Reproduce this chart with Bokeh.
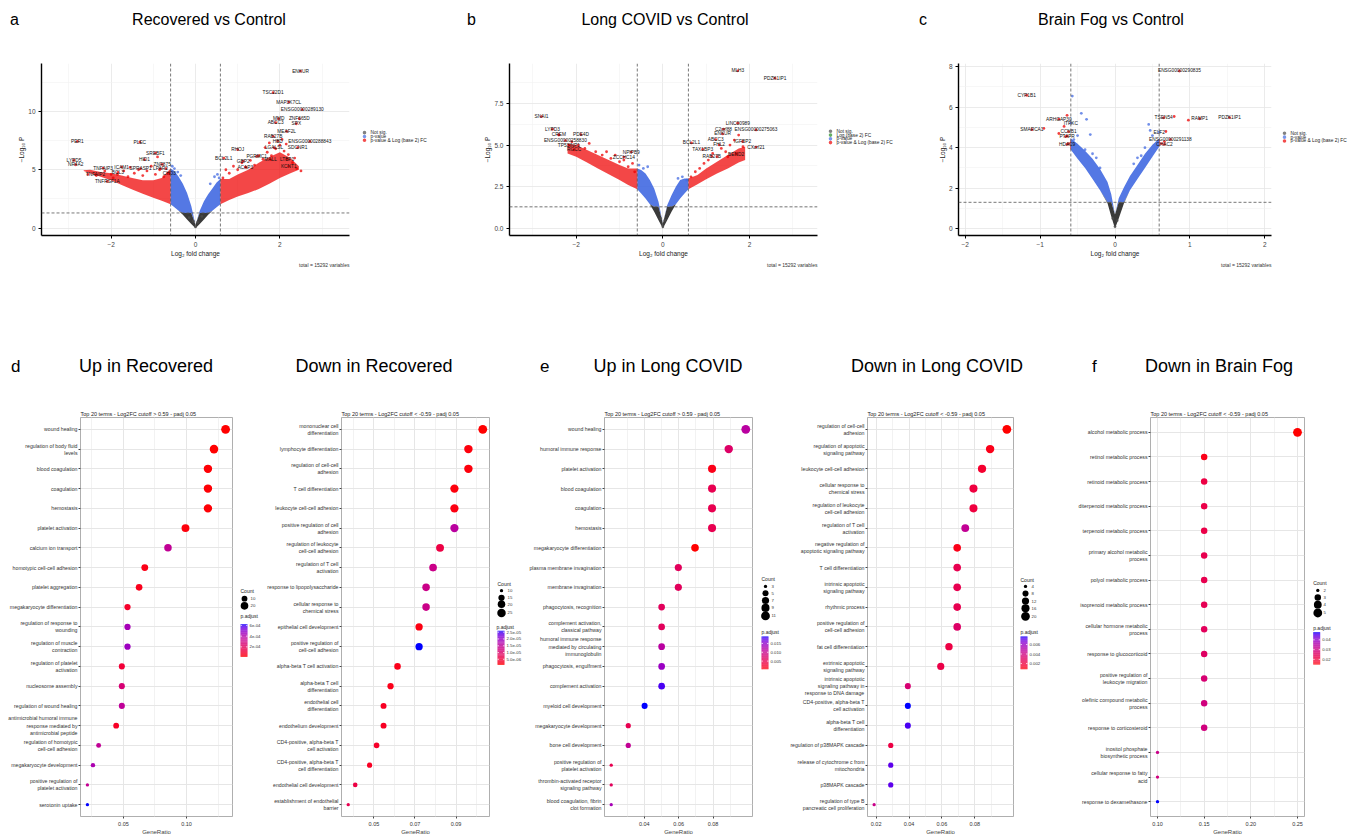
import numpy as np
from bokeh.plotting import figure
from bokeh.models import (Range1d, FactorRange, FixedTicker, Span, Title,
                          LinearColorMapper, ColumnDataSource, Div)
from bokeh.layouts import column, row
from bokeh.core.properties import value
from bokeh.embed import file_html
from bokeh.resources import INLINE

FONT = "Liberation Sans"

# ------------------------------------------------------------------ volcano data
# cloud envelopes (x, lower edge of -log10 P, upper edge of dense cloud)
a_left_x = [0, -0.1, -0.2, -0.3, -0.4, -0.5, -0.59, -0.8, -1.0, -1.25, -1.5, -1.75, -2.0, -2.25, -2.5, -2.65]
a_left_lo = [0, 0.35, 0.75, 1.15, 1.5, 1.8, 2.05, 2.35, 2.6, 2.95, 3.3, 3.7, 4.1, 4.4, 4.7, 4.9]
a_left_hi = [0.3, 1.9, 3.0, 3.8, 4.4, 4.9, 5.1, 4.3, 4.1, 4.1, 4.3, 4.5, 4.7, 4.8, 5.0, 4.95]
a_right_x = [0, 0.1, 0.2, 0.3, 0.4, 0.5, 0.59, 0.8, 1.0, 1.25, 1.5, 1.75, 2.0, 2.25, 2.45]
a_right_lo = [0, 0.35, 0.75, 1.15, 1.5, 1.8, 2.05, 2.4, 2.7, 3.0, 3.35, 3.8, 4.3, 4.7, 5.0]
a_right_hi = [0.3, 1.5, 2.3, 2.9, 3.4, 3.9, 4.2, 4.2, 4.6, 5.0, 5.6, 6.1, 6.5, 6.0, 5.3]
a_pts_x = [-2.55, -2.35, -2.15, -1.95, -1.85, -1.7, -1.6, -1.45, -1.35, -1.25, -1.15, -1.05, -0.95, -0.85, -0.75, -0.7, -0.65, -0.9, -1.55, -2.0,
           0.65, 0.72, 0.8, 0.9, 1.0, 1.1, 1.2, 1.3, 1.4, 1.5, 1.6, 1.7, 1.8, 1.9, 2.0, 2.1, 2.2, 2.3, 2.4, 2.5, 1.75, 2.05, 2.15, 1.65, 2.35,
           -0.55, -0.5, -0.42, -0.35, 0.35, 0.45, 0.52, 0.56, -0.05, 0.05, -0.15, 0.15, 0.0]
a_pts_y = [4.6, 4.5, 4.9, 4.3, 4.6, 4.9, 4.4, 4.7, 5.0, 4.5, 4.9, 5.3, 4.6, 5.0, 4.4, 5.1, 4.7, 6.1, 5.2, 4.6,
           4.3, 5.0, 4.7, 5.3, 5.0, 5.6, 5.2, 5.8, 5.4, 6.2, 5.9, 6.5, 6.2, 6.8, 7.1, 6.6, 6.3, 5.6, 5.1, 4.9, 7.3, 7.6, 7.2, 6.9, 6.0,
           5.3, 5.1, 4.8, 4.5, 3.8, 4.4, 4.6, 4.3, 0.6, 0.5, 0.9, 1.0, 0.1]
a_genes = ["ENKUR", "TSC22D1", "MAP3K7CL", "ENSG00000289130", "MMD", "ZNF665D", "ABCC3", "SPX", "MEAF2L", "RAB27B",
           "HBD", "ENSG00000288843", "SDCNR1", "LGALSL", "RHOJ", "BCL2L1", "GBP2", "PGRMC1", "MALL", "LTBP1", "ACAP3", "KCNT1",
           "PER1", "PLEC", "SREBF1", "HID1", "ZNF875", "LYPD5", "NR4A2", "TNFAIP3", "ICAM1", "BCL3", "TNFAIP2",
           "TNFRSF1A", "SPRASP1", "LPAR2", "CHD3"]
a_gx = [2.49, 1.84, 2.21, 2.53, 1.97, 2.46, 1.90, 2.39, 2.16, 1.84, 1.95, 2.71, 2.42, 1.86, 1.00, 0.67, 1.13, 1.45, 1.78, 2.17, 1.18, 2.21,
        -2.80, -1.32, -0.95, -1.21, -0.79, -2.88, -2.84, -2.19, -1.75, -1.84, -2.37, -2.09, -1.30, -0.83, -0.62]
a_gy = [13.45, 11.6, 10.8, 10.15, 9.37, 9.37, 9.03, 8.94, 8.28, 7.86, 7.46, 7.43, 6.89, 6.89, 6.72, 6.0, 5.74, 6.14, 5.86, 5.91, 5.23, 5.29,
        7.43, 7.37, 6.43, 5.86, 5.46, 5.8, 5.43, 5.14, 5.23, 4.77, 4.58, 4.0, 5.09, 5.09, 4.66]

b_left_x = [0, -0.1, -0.2, -0.3, -0.4, -0.5, -0.59, -0.8, -1.0, -1.25, -1.5, -1.75, -2.0, -2.2]
b_left_lo = [0, 0.5, 1.0, 1.45, 1.8, 2.1, 2.35, 2.6, 2.9, 3.25, 3.6, 3.95, 4.3, 4.5]
b_left_hi = [0.3, 1.6, 2.4, 2.9, 3.3, 3.5, 3.6, 3.6, 3.8, 4.1, 4.4, 4.7, 5.0, 5.1]
b_right_x = [0, 0.1, 0.2, 0.3, 0.4, 0.5, 0.59, 0.8, 1.0, 1.25, 1.5, 1.75, 1.9]
b_right_lo = [0, 0.5, 1.0, 1.45, 1.8, 2.1, 2.35, 2.65, 2.95, 3.3, 3.6, 3.95, 4.1]
b_right_hi = [0.3, 1.4, 2.0, 2.5, 2.9, 3.0, 3.0, 3.2, 3.6, 4.0, 4.4, 4.8, 4.9]
b_pts_x = [-2.1, -1.95, -1.8, -1.7, -1.55, -1.4, -1.3, -1.2, -1.1, -1.0, -0.9, -0.8, -0.7, -0.65, -2.4,
           0.65, 0.75, 0.85, 0.95, 1.05, 1.15, 1.25, 1.35, 1.45, 1.55, 1.65, 1.75, 1.85, 1.7, 1.5,
           -0.55, -0.45, -0.35, 0.35, 0.45, 0.55, -0.05, 0.05, 0.0]
b_pts_y = [5.2, 5.0, 4.8, 5.1, 4.6, 4.4, 4.6, 4.2, 4.4, 4.0, 4.1, 3.7, 3.9, 3.4, 5.6,
           3.1, 3.4, 3.6, 3.9, 4.1, 4.5, 4.3, 4.8, 4.6, 5.0, 5.3, 5.6, 4.9, 4.5, 4.3,
           3.8, 3.6, 3.7, 3.0, 3.1, 2.9, 0.6, 0.5, 0.1]
b_genes = ["MLH3", "PDZK1IP1", "SNAI1", "LYPD3", "CREM", "PDE4D", "ENSG00000258830", "TP53INP1", "RGCC",
           "NPIPB9", "ZCCHC14", "LINC00989", "C2orf88", "ENSG00000275063", "ENKUR", "ABCC3", "IGFBP2", "BCL2L1",
           "FHL2", "CXorf21", "TAX1BP3", "RAB27B", "BEND2"]
b_gx = [1.73, 2.59, -2.80, -2.55, -2.40, -1.89, -2.25, -2.17, -2.05, -0.73, -0.90, 1.73, 1.40, 2.15, 1.38, 1.22, 1.84, 0.66,
        1.30, 2.15, 0.92, 1.13, 1.69]
b_gy = [9.45, 9.01, 6.71, 5.95, 5.63, 5.63, 5.27, 5.0, 4.72, 4.58, 4.28, 6.31, 5.95, 5.91, 5.67, 5.33, 5.21, 5.13,
        5.01, 4.88, 4.74, 4.32, 4.44]

c_left_x = [0, -0.05, -0.1, -0.2, -0.3, -0.4, -0.5, -0.59, -0.6]
c_left_lo = [0, 0.6, 1.25, 1.9, 2.45, 3.0, 3.45, 3.9, 3.95]
c_left_hi = [0.7, 1.7, 2.3, 2.95, 3.45, 3.85, 4.2, 4.45, 4.3]
c_right_x = [0, 0.05, 0.12, 0.2, 0.3, 0.4, 0.5, 0.59, 0.6]
c_right_lo = [0, 0.5, 1.25, 1.9, 2.45, 3.0, 3.55, 4.05, 4.1]
c_right_hi = [0.7, 1.5, 2.05, 2.6, 3.15, 3.7, 4.15, 4.45, 4.35]
c_pts_x = [-0.45, -0.38, -0.33, -0.5, -0.55, -0.57, 0.45, 0.5, 0.47, -0.3, -0.25, -0.2, 0.25, 0.3, 0.35, -0.4, 0.4,
           -0.64, -0.68, -0.95, -0.75, -0.66, -0.62, 0.79, 0.98, 0.68, 0.62, 0.66, -0.03, 0.03, 0.0]
c_pts_y = [5.7, 5.4, 4.65, 4.6, 4.4, 6.55, 5.15, 4.6, 4.85, 3.7, 3.5, 3.0, 3.2, 3.5, 3.6, 3.9, 4.0,
           5.6, 5.05, 4.95, 4.7, 4.55, 4.2, 5.54, 5.36, 4.8, 4.2, 4.3, 0.5, 0.4, 0.1]
c_genes = ["ENSG00000290835", "CYP1B1", "ARHGAP30", "ITPKC", "SMARCA1", "CCNB1", "PTAFR", "HDAC9",
           "TSEN54", "RAMP1", "PDZK1IP1", "ELF2", "ENSG00000291138", "CHAC2"]
c_gx = [0.86, -1.18, -0.75, -0.59, -1.11, -0.62, -0.64, -0.64, 0.65, 1.13, 1.53, 0.59, 0.74, 0.66]
c_gy = [7.79, 6.59, 5.41, 5.21, 4.89, 4.79, 4.57, 4.16, 5.48, 5.43, 5.49, 4.77, 4.41, 4.16]

legend3 = ["Not sig.", "p-value", "p-value & Log (base 2) FC"]
legend4 = ["Not sig.", "Log (base 2) FC", "p-value", "p-value & Log (base 2) FC"]

# ------------------------------------------------------------------ enrichment data
d1_terms = ["wound healing", "regulation of body fluid\nlevels", "blood coagulation", "coagulation", "hemostasis",
            "platelet activation", "calcium ion transport", "homotypic cell-cell adhesion", "platelet aggregation",
            "megakaryocyte differentiation", "regulation of response to\nwounding", "regulation of muscle\ncontraction",
            "regulation of platelet\nactivation", "nucleosome assembly", "regulation of wound healing",
            "antimicrobial humoral immune\nresponse mediated by\nantimicrobial peptide",
            "regulation of homotypic\ncell-cell adhesion", "megakaryocyte development",
            "positive regulation of\nplatelet activation", "serotonin uptake"]
d1_ratio = [0.131, 0.1218, 0.117, 0.117, 0.117, 0.0992, 0.0853, 0.0669, 0.0624, 0.0532, 0.0532, 0.0532,
            0.0487, 0.0487, 0.0487, 0.0442, 0.0303, 0.0258, 0.0214, 0.0214]
d1_count = [29, 27, 26, 26, 26, 22, 19, 15, 14, 12, 12, 12, 11, 11, 11, 10, 7, 6, 5, 5]
d1_padj = [1.7e-05, 1.9e-05, 2.2e-05, 2.2e-05, 2.2e-05, 3.0e-05, 3.5e-04, 4.5e-05, 5.0e-05, 8.0e-05, 4.4e-04, 4.6e-04,
           1.1e-04, 2.6e-04, 3.6e-04, 7.0e-05, 3.5e-04, 4.2e-04, 3.4e-04, 6.2e-04]
d1_count_breaks = [10, 20]
d1_padj_ticks = [2e-04, 4e-04, 6e-04]
d1_padj_labels = ["2e-04", "4e-04", "6e-04"]
d1_xticks = [0.05, 0.10]

d2_terms = ["mononuclear cell\ndifferentiation", "lymphocyte differentiation", "regulation of cell-cell\nadhesion",
            "T cell differentiation", "leukocyte cell-cell adhesion", "positive regulation of cell\nadhesion",
            "regulation of leukocyte\ncell-cell adhesion", "regulation of T cell\nactivation",
            "response to lipopolysaccharide", "cellular response to\nchemical stress", "epithelial cell development",
            "positive regulation of\ncell-cell adhesion", "alpha-beta T cell activation",
            "alpha-beta T cell\ndifferentiation", "endothelial cell\ndifferentiation", "endothelium development",
            "CD4-positive, alpha-beta T\ncell activation", "CD4-positive, alpha-beta T\ncell differentiation",
            "endothelial cell development", "establishment of endothelial\nbarrier"]
d2_ratio = [0.103, 0.096, 0.096, 0.0892, 0.0892, 0.0892, 0.0822, 0.0788, 0.0754, 0.0754, 0.0720, 0.0720,
            0.0615, 0.0581, 0.0547, 0.0547, 0.0513, 0.0479, 0.0409, 0.0375]
d2_count = [27, 25, 25, 24, 24, 24, 22, 21, 20, 20, 19, 19, 16, 15, 14, 14, 13, 12, 11, 10]
d2_padj = [1.0e-06, 1.5e-06, 1.5e-06, 1.5e-06, 1.8e-06, 1.6e-05, 6.0e-06, 1.35e-05, 1.35e-05, 1.35e-05, 1.8e-06,
           2.6e-05, 2.3e-06, 2.3e-06, 3.0e-06, 3.0e-06, 3.5e-06, 3.0e-06, 6.0e-06, 7.3e-06]
d2_count_breaks = [10, 15, 20, 25]
d2_padj_ticks = [5e-06, 1e-05, 1.5e-05, 2e-05, 2.5e-05]
d2_padj_labels = ["5.0e-06", "1.0e-05", "1.5e-05", "2.0e-05", "2.5e-05"]
d2_xticks = [0.05, 0.07, 0.09, 0.11]

e1_terms = ["wound healing", "humoral immune response", "platelet activation", "blood coagulation", "coagulation",
            "hemostasis", "megakaryocyte differentiation", "plasma membrane invagination", "membrane invagination",
            "phagocytosis, recognition", "complement activation,\nclassical pathway",
            "humoral immune response\nmediated by circulating\nimmunoglobulin", "phagocytosis, engulfment",
            "complement activation", "myeloid cell development", "megakaryocyte development",
            "bone cell development", "positive regulation of\nplatelet activation",
            "thrombin-activated receptor\nsignaling pathway", "blood coagulation, fibrin\nclot formation"]
e1_ratio = [0.099, 0.0891, 0.0794, 0.0794, 0.0794, 0.0794, 0.0695, 0.0598, 0.0598, 0.0501, 0.0501, 0.0501, 0.0501,
            0.0501, 0.0402, 0.0307, 0.0307, 0.0208, 0.0208, 0.0208]
e1_count = [11, 10, 9, 9, 9, 9, 8, 7, 7, 6, 6, 6, 6, 6, 5, 4, 4, 3, 3, 3]
e1_padj = [0.0116, 0.0069, 0.0013, 0.0051, 0.0051, 0.0051, 0.0004, 0.0060, 0.0060, 0.0060, 0.0060, 0.0116, 0.0144,
           0.0181, 0.0190, 0.0051, 0.0106, 0.0051, 0.0060, 0.0134]
e1_count_breaks = [3, 5, 7, 9, 11]
e1_padj_ticks = [0.005, 0.010, 0.015]
e1_padj_labels = ["0.005", "0.010", "0.015"]
e1_xticks = [0.04, 0.06, 0.08]

e2_terms = ["regulation of cell-cell\nadhesion", "regulation of apoptotic\nsignaling pathway",
            "leukocyte cell-cell adhesion", "cellular response to\nchemical stress",
            "regulation of leukocyte\ncell-cell adhesion", "regulation of T cell\nactivation",
            "negative regulation of\napoptotic signaling pathway", "T cell differentiation",
            "intrinsic apoptotic\nsignaling pathway", "rhythmic process", "positive regulation of\ncell-cell adhesion",
            "fat cell differentiation", "extrinsic apoptotic\nsignaling pathway",
            "intrinsic apoptotic\nsignaling pathway in\nresponse to DNA damage",
            "CD4-positive, alpha-beta T\ncell activation", "alpha-beta T cell\ndifferentiation",
            "regulation of p38MAPK cascade", "release of cytochrome c from\nmitochondria", "p38MAPK cascade",
            "regulation of type B\npancreatic cell proliferation"]
e2_ratio = [0.0995, 0.0893, 0.0844, 0.0792, 0.0792, 0.0742, 0.0693, 0.0693, 0.0693, 0.0693, 0.0693, 0.0643, 0.0593,
            0.0393, 0.0393, 0.0393, 0.0289, 0.0289, 0.0289, 0.0188]
e2_count = [20, 18, 17, 16, 16, 15, 14, 14, 14, 14, 14, 13, 12, 8, 8, 8, 6, 6, 6, 4]
e2_padj = [0.0008, 0.00115, 0.00163, 0.00204, 0.00204, 0.0046, 0.00115, 0.00253, 0.00253, 0.00253, 0.00322, 0.00218,
           0.00232, 0.00356, 0.0077, 0.00736, 0.00218, 0.00715, 0.00715, 0.00425]
e2_count_breaks = [4, 8, 12, 16, 20]
e2_padj_ticks = [0.002, 0.004, 0.006]
e2_padj_labels = ["0.002", "0.004", "0.006"]
e2_xticks = [0.02, 0.04, 0.06, 0.08]

f_terms = ["alcohol metabolic process", "retinol metabolic process", "retinoid metabolic process",
           "diterpenoid metabolic process", "terpenoid metabolic process", "primary alcohol metabolic\nprocess",
           "polyol metabolic process", "isoprenoid metabolic process", "cellular hormone metabolic\nprocess",
           "response to glucocorticoid", "positive regulation of\nleukocyte migration",
           "olefinic compound metabolic\nprocess", "response to corticosteroid", "inositol phosphate\nbiosynthetic process",
           "cellular response to fatty\nacid", "response to dexamethasone"]
f_ratio = [0.25, 0.15, 0.15, 0.15, 0.15, 0.15, 0.15, 0.15, 0.15, 0.15, 0.15, 0.15, 0.15, 0.10, 0.10, 0.10]
f_count = [5, 3, 3, 3, 3, 3, 3, 3, 3, 3, 3, 3, 3, 2, 2, 2]
f_padj = [0.0148, 0.0164, 0.0214, 0.0220, 0.0220, 0.0230, 0.0230, 0.0237, 0.0246, 0.0256, 0.0279, 0.0296, 0.0296,
          0.0312, 0.0296, 0.0476]
f_count_breaks = [2, 3, 4, 5]
f_padj_ticks = [0.02, 0.03, 0.04]
f_padj_labels = ["0.02", "0.03", "0.04"]
f_xticks = [0.10, 0.15, 0.20, 0.25]

# ------------------------------------------------------------------ helpers
FC, PC = 0.59, 1.3
GREY, GREEN, BLUE, RED = "#4D4D4D", "#228B22", "#4169E1", "#EE0000"
CLASS_COLOR = {"Not sig.": GREY, "Log (base 2) FC": GREEN, "p-value": BLUE, "p-value & Log (base 2) FC": RED}
GRID, GRID_MINOR = "#E6E6E6", "#F2F2F2"


def _to_lab(rgb):
    def lin(c):
        c = c / 255.0
        return c / 12.92 if c <= 0.04045 else ((c + 0.055) / 1.055) ** 2.4
    r, g, b = [lin(v) for v in rgb]
    X = 0.4124 * r + 0.3576 * g + 0.1805 * b
    Y = 0.2126 * r + 0.7152 * g + 0.0722 * b
    Z = 0.0193 * r + 0.1192 * g + 0.9505 * b

    def f(t):
        return t ** (1 / 3) if t > 0.008856 else 7.787 * t + 16 / 116
    fx, fy, fz = f(X / 0.95047), f(Y), f(Z / 1.08883)
    return (116 * fy - 16, 500 * (fx - fy), 200 * (fy - fz))


def _to_hex(lab):
    L, a, b = lab
    fy = (L + 16) / 116
    fx = fy + a / 500
    fz = fy - b / 200

    def finv(t):
        return t ** 3 if t ** 3 > 0.008856 else (t - 16 / 116) / 7.787
    X, Y, Z = 0.95047 * finv(fx), finv(fy), 1.08883 * finv(fz)
    r = 3.2406 * X - 1.5372 * Y - 0.4986 * Z
    g = -0.9689 * X + 1.8758 * Y + 0.0415 * Z
    bb = 0.0557 * X - 0.2040 * Y + 1.0570 * Z

    def gam(c):
        c = max(0.0, min(1.0, c))
        return 12.92 * c if c <= 0.0031308 else 1.055 * c ** (1 / 2.4) - 0.055
    return "#%02x%02x%02x" % tuple(int(round(gam(c) * 255)) for c in (r, g, bb))


_lr, _lb = _to_lab((255, 0, 0)), _to_lab((0, 0, 255))
PALETTE = [_to_hex(tuple(_lr[k] + (_lb[k] - _lr[k]) * i / 255 for k in range(3))) for i in range(256)]


def classify(x, y):
    if abs(x) > FC and y > PC:
        return RED
    if y > PC:
        return BLUE
    if abs(x) > FC:
        return GREEN
    return GREY


def bare_fig(width, height):
    p = figure(width=width, height=height, x_range=Range1d(0, width), y_range=Range1d(height, 0),
               output_backend="svg", toolbar_location=None, min_border=0,
               x_axis_location=None, y_axis_location=None)
    p.grid.visible = False
    p.outline_line_color = None
    return p


ROW1_TOP = 40
ROW1_H = 260


def volcano(width, ml, xr, yr, xt, xm, yt, ym, ylab_over, envs, px, py, gname, gx, gy):
    p = figure(width=width, height=ROW1_H, x_range=Range1d(*xr), y_range=Range1d(*yr),
               output_backend="svg", toolbar_location=None,
               min_border_left=ml, min_border_right=3, min_border_top=23, min_border_bottom=65)
    p.outline_line_color = None
    p.xaxis.ticker = FixedTicker(ticks=xt, minor_ticks=xm)
    p.yaxis.ticker = FixedTicker(ticks=yt, minor_ticks=ym)
    if ylab_over:
        p.yaxis.major_label_overrides = ylab_over
    for g in (p.xgrid, p.ygrid):
        g.grid_line_color = GRID
        g.grid_line_width = 0.8
        g.minor_grid_line_color = GRID_MINOR
        g.minor_grid_line_width = 0.6
    for ax in (p.xaxis[0], p.yaxis[0]):
        ax.axis_line_color = "black"
        ax.axis_line_width = 1.4
        ax.major_tick_line_color = "black"
        ax.major_tick_out = 3
        ax.major_tick_in = 0
        ax.minor_tick_line_color = None
        ax.major_label_text_font = FONT
        ax.major_label_text_font_size = "6.5px"
        ax.major_label_text_color = "#444444"
        ax.major_label_standoff = 2
        ax.axis_label_text_font = FONT
        ax.axis_label_text_font_size = "6.5px"
        ax.axis_label_text_font_style = "normal"
        ax.axis_label_text_color = "#222222"
        ax.axis_label_standoff = 0
    p.xaxis.axis_label = "Log\u2082 fold change"
    p.yaxis.axis_label = "\u2212Log\u2081\u2080 P"

    for ex, lo, hi in envs:
        ex = np.asarray(ex, float)
        lo = np.asarray(lo, float)
        hi = np.asarray(hi, float)
        inner = np.abs(ex) <= FC + 1e-9
        outer = np.abs(ex) >= FC - 1e-9
        y1 = np.minimum(np.maximum(lo, PC), hi)
        p.varea(x=ex[inner].tolist(), y1=y1[inner].tolist(), y2=hi[inner].tolist(),
                fill_color=BLUE, fill_alpha=0.9)
        if outer.sum() >= 2:
            p.varea(x=ex[outer].tolist(), y1=y1[outer].tolist(), y2=hi[outer].tolist(),
                    fill_color=RED, fill_alpha=0.72)
        p.varea(x=ex.tolist(), y1=lo.tolist(), y2=np.maximum(lo, np.minimum(hi, PC)).tolist(),
                fill_color="#3A3A3A", fill_alpha=1.0)

    allx = list(px) + list(gx)
    ally = list(py) + list(gy)
    cols = [classify(x, y) for x, y in zip(allx, ally)]
    p.scatter(x=allx, y=ally, size=2.8, fill_color=cols, line_color=None, fill_alpha=0.75)

    for loc in (-FC, FC):
        p.add_layout(Span(location=loc, dimension="height", line_color="#555555", line_dash="3 2", line_width=0.8))
    p.add_layout(Span(location=PC, dimension="width", line_color="#555555", line_dash="3 2", line_width=0.8))

    p.text(x=gx, y=gy, text=gname, text_font=value(FONT), text_font_size="4.8px", text_align="center",
           text_baseline="middle", text_color="#111111")
    p.add_layout(Title(text="total = 15292 variables", align="right", text_font=FONT, text_font_size="5px",
                       text_font_style="normal", text_color="#333333", standoff=0), "below")
    return p


def volcano_legend(width, x0, labels, glyph_x, text_x, ys):
    p = bare_fig(width, ROW1_H)
    yy = [y - ROW1_TOP for y in ys]
    p.scatter(x=[glyph_x - x0] * len(labels), y=yy, size=3.6,
              fill_color=[CLASS_COLOR[l] for l in labels], line_color=None, fill_alpha=0.7)
    p.text(x=[text_x - x0] * len(labels), y=yy, text=labels, text_font=value(FONT), text_font_size="4.8px",
           text_align="left", text_baseline="middle", text_color="#222222")
    return p


ROW2_TOP = 390
ROW2_H = 447


def size_of(c, cmin, cmax):
    c = np.asarray(c, float)
    return 1.1 * (3 + 5 * np.sqrt((c - cmin) / (cmax - cmin)))


def dotplot(terms, ratio, count, padj, subtitle, xticks, width, ml, mr):
    ratio = np.asarray(ratio, float)
    lo, hi = ratio.min(), ratio.max()
    pad = 0.05 * (hi - lo)
    cmin, cmax = min(count), max(count)
    mapper = LinearColorMapper(palette=PALETTE, low=min(padj), high=max(padj))
    p = figure(width=width, height=ROW2_H, x_range=Range1d(lo - pad, hi + pad),
               y_range=FactorRange(*terms[::-1], range_padding=0.1, range_padding_units="absolute"),
               output_backend="svg", toolbar_location=None,
               min_border_left=ml, min_border_right=mr, min_border_top=27, min_border_bottom=17)
    p.title.text = subtitle
    p.title.text_font = FONT
    p.title.text_font_size = "5.5px"
    p.title.text_font_style = "normal"
    p.title.text_color = "#222222"
    p.title.standoff = 2
    p.outline_line_color = "#9A9A9A"
    p.outline_line_width = 0.8
    step = xticks[1] - xticks[0]
    minors = [xticks[0] - step / 2] + [t + step / 2 for t in xticks]
    p.xaxis.ticker = FixedTicker(ticks=xticks, minor_ticks=minors)
    p.xaxis.major_label_overrides = {t: "%.2f" % t for t in xticks}
    p.xgrid.grid_line_color = GRID
    p.xgrid.minor_grid_line_color = GRID_MINOR
    p.ygrid.grid_line_color = GRID
    for ax in (p.xaxis[0], p.yaxis[0]):
        ax.axis_line_color = None
        ax.major_tick_line_color = "#444444"
        ax.major_tick_out = 2
        ax.major_tick_in = 0
        ax.minor_tick_line_color = None
        ax.major_label_text_font = FONT
        ax.major_label_text_color = "#333333"
        ax.major_label_standoff = 1
    p.yaxis.major_label_text_font_size = "5.2px"
    p.xaxis.major_label_text_font_size = "5.5px"
    p.xaxis.axis_label = "GeneRatio"
    p.xaxis.axis_label_text_font = FONT
    p.xaxis.axis_label_text_font_size = "6px"
    p.xaxis.axis_label_text_font_style = "normal"
    p.xaxis.axis_label_standoff = 0
    src = ColumnDataSource(dict(term=terms, ratio=ratio, size=size_of(count, cmin, cmax), padj=padj))
    p.scatter("ratio", "term", size="size", source=src,
              fill_color={"field": "padj", "transform": mapper}, line_color=None)
    return p, mapper, cmin, cmax, min(padj), max(padj)


def legend_fig(width, x0, mapper, cmin, cmax, pmin, pmax, breaks, ticks, tick_labels, spec):
    H = ROW2_H
    p = bare_fig(width, H)
    tx, ty = spec["count_title"]
    p.text(x=[tx - x0], y=[ty - ROW2_TOP], text=["Count"], text_font=value(FONT), text_font_size="5px",
           text_align="left", text_baseline="middle", text_color="#222222")
    dys = [y - ROW2_TOP for y in spec["dots_y"]]
    p.scatter(x=[spec["dots_x"] - x0] * len(breaks), y=dys, size=size_of(breaks, cmin, cmax).tolist(),
              fill_color="black", line_color=None)
    p.text(x=[spec["lab_x"] - x0] * len(breaks), y=dys, text=[str(b) for b in breaks], text_font=value(FONT),
           text_font_size="4.3px", text_align="left", text_baseline="middle", text_color="#333333")
    px_, py_ = spec["padj_title"]
    p.text(x=[px_ - x0], y=[py_ - ROW2_TOP], text=["p.adjust"], text_font=value(FONT), text_font_size="5px",
           text_align="left", text_baseline="middle", text_color="#222222")
    # colour bar drawn from the p.adjust scale through the same mapper
    cbx, cbt, cbb = spec["cbar"]
    cbx -= x0
    cbt -= ROW2_TOP
    cbb -= ROW2_TOP
    n = 48
    edges = np.linspace(pmin, pmax, n + 1)
    mids = 0.5 * (edges[:-1] + edges[1:])

    def ypos(v):
        return cbb - (np.asarray(v) - pmin) / (pmax - pmin) * (cbb - cbt)
    cb_src = ColumnDataSource(dict(mid=mids.tolist(), left=[cbx] * n, right=[cbx + 7] * n,
                                   bottom=ypos(edges[:-1]).tolist(), top=ypos(edges[1:]).tolist()))
    p.quad(left="left", right="right", bottom="bottom", top="top",
           fill_color={"field": "mid", "transform": mapper}, line_color=None, source=cb_src)
    ty_ = ypos(ticks).tolist()
    p.segment(x0=[cbx] * len(ticks), x1=[cbx + 1.5] * len(ticks), y0=ty_, y1=ty_, line_color="white", line_width=0.7)
    p.segment(x0=[cbx + 5.5] * len(ticks), x1=[cbx + 7] * len(ticks), y0=ty_, y1=ty_, line_color="white",
              line_width=0.7)
    p.text(x=[cbx + 9] * len(ticks), y=ty_, text=tick_labels, text_font=value(FONT), text_font_size="4.3px",
           text_align="left", text_baseline="middle", text_color="#333333")
    return p


def header(h, items):
    spans = []
    for text, x, yc, fs, anchor in items:
        tr = "transform:translateX(-50%);" if anchor == "center" else ""
        spans.append(
            f'<span style="position:absolute;left:{x}px;top:{yc - 0.6 * fs:.1f}px;font-size:{fs}px;'
            f'line-height:1.2;white-space:nowrap;font-family:\'{FONT}\',Arial,sans-serif;color:#000;{tr}">{text}</span>')
    html = f'<div style="position:relative;width:1352px;height:{h}px;">{"".join(spans)}</div>'
    return Div(text=html, width=1352, height=h, margin=0)


# ------------------------------------------------------------------ build
head1 = header(40, [("a", 10, 20, 16, "left"), ("Recovered vs Control", 209, 20, 16, "center"),
                    ("b", 467, 20, 16, "left"), ("Long COVID vs Control", 665, 20, 16, "center"),
                    ("c", 919, 20, 16, "left"), ("Brain Fog vs Control", 1111, 20, 16, "center")])

va = volcano(352, 41, (-3.65, 3.65), (-0.63, 14.1), [-2, 0, 2], [-3, -1, 1, 3], [0, 5, 10], [2.5, 7.5, 12.5], None,
             [(a_left_x, a_left_lo, a_left_hi), (a_right_x, a_right_lo, a_right_hi)],
             a_pts_x, a_pts_y, a_genes, a_gx, a_gy)
val = volcano_legend(108, 352, legend3, 364, 370, [144.5, 150.3, 156.1])
vb = volcano(360, 49, (-3.54, 3.57), (-0.42, 9.89), [-2, 0, 2], [-3, -1, 1, 3], [0, 2.5, 5, 7.5],
             [1.25, 3.75, 6.25, 8.75], {0: "0.0", 2.5: "2.5", 5: "5.0", 7.5: "7.5"},
             [(b_left_x, b_left_lo, b_left_hi), (b_right_x, b_right_lo, b_right_hi)],
             b_pts_x, b_pts_y, b_genes, b_gx, b_gy)
vbl = volcano_legend(90, 820, legend4, 830, 836, [142.5, 148.2, 153.9, 159.6])
vc = volcano(364, 48, (-2.09, 2.09), (-0.34, 8.16), [-2, -1, 0, 1, 2], [-1.5, -0.5, 0.5, 1.5], [0, 2, 4, 6, 8],
             [1, 3, 5, 7], None,
             [(c_left_x, c_left_lo, c_left_hi), (c_right_x, c_right_lo, c_right_hi)],
             c_pts_x, c_pts_y, c_genes, c_gx, c_gy)
vcl = volcano_legend(78, 1274, legend3, 1284, 1290, [145.5, 151.3, 157.1])

head2 = header(90, [("d", 11, 67, 17, "left"), ("Up in Recovered", 146, 67, 18, "center"),
                    ("Down in Recovered", 374, 67, 18, "center"), ("e", 540, 67, 17, "left"),
                    ("Up in Long COVID", 668, 67, 18, "center"), ("Down in Long COVID", 937, 67, 18, "center"),
                    ("f", 1092, 67, 17, "left"), ("Down in Brain Fog", 1219, 67, 18, "center")])

UP = "Top 20 terms - Log2FC cutoff > 0.59 - padj 0.05"
DOWN = "Top 20 terms - Log2FC cutoff < -0.59 - padj 0.05"

pd1, m1, c1a, c1b, p1a, p1b = dotplot(d1_terms, d1_ratio, d1_count, d1_padj, UP, d1_xticks, 236, 80, 4)
pl1 = legend_fig(26, 236, m1, c1a, c1b, p1a, p1b, d1_count_breaks, d1_padj_ticks, d1_padj_labels,
                 dict(count_title=(240, 584), dots_x=244, dots_y=[593, 601], lab_x=250,
                      padj_title=(240, 612), cbar=(240, 621.7, 658)))
pd2, m2, c2a, c2b, p2a, p2b = dotplot(d2_terms, d2_ratio, d2_count, d2_padj, DOWN, d2_xticks, 230, 79, 3)
pl2 = legend_fig(34, 492, m2, c2a, c2b, p2a, p2b, d2_count_breaks, d2_padj_ticks, d2_padj_labels,
                 dict(count_title=(497, 577), dots_x=501, dots_y=[584, 592, 599.3, 609], lab_x=507,
                      padj_title=(496, 625), cbar=(497, 629, 667)))
pe1, m3, c3a, c3b, p3a, p3b = dotplot(e1_terms, e1_ratio, e1_count, e1_padj, UP, e1_xticks, 229, 75, 3)
pl3 = legend_fig(31, 755, m3, c3a, c3b, p3a, p3b, e1_count_breaks, e1_padj_ticks, e1_padj_labels,
                 dict(count_title=(761, 571), dots_x=765, dots_y=[579.3, 587, 595, 603.3, 612.3], lab_x=771,
                      padj_title=(761, 630), cbar=(761, 635.3, 672)))
pe2, m4, c4a, c4b, p4a, p4b = dotplot(e2_terms, e2_ratio, e2_count, e2_padj, DOWN, e2_xticks, 229, 81, 2)
pl4 = legend_fig(30, 1015, m4, c4a, c4b, p4a, p4b, e2_count_breaks, e2_padj_ticks, e2_padj_labels,
                 dict(count_title=(1020, 571.7), dots_x=1025, dots_y=[579.3, 587.3, 595.7, 603.7, 612.7], lab_x=1031,
                      padj_title=(1020, 630), cbar=(1020, 635.3, 672)))
pf, m5, c5a, c5b, p5a, p5b = dotplot(f_terms, f_ratio, f_count, f_padj, DOWN, f_xticks, 263, 105, 4)
pl5 = legend_fig(44, 1308, m5, c5a, c5b, p5a, p5b, f_count_breaks, f_padj_ticks, f_padj_labels,
                 dict(count_title=(1312.7, 575.7), dots_x=1317.3, dots_y=[583.7, 591.7, 599.7, 609], lab_x=1323,
                      padj_title=(1312.7, 625.7), cbar=(1312.7, 630.7, 666.7)))

layout = column(head1, row(va, val, vb, vbl, vc, vcl), head2,
                row(pd1, pl1, pd2, pl2, pe1, pl3, pe2, pl4, pf, pl5))

open("out.html", "w").write(file_html(layout, INLINE))
